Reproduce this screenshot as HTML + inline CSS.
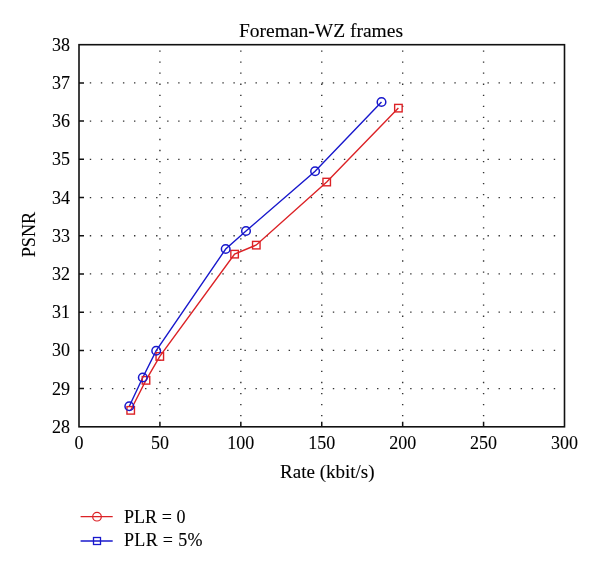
<!DOCTYPE html>
<html><head><meta charset="utf-8"><style>
html,body{margin:0;padding:0;background:#fff;}
body{width:600px;height:568px;overflow:hidden;font-family:"Liberation Serif",serif;}
svg{display:block;will-change:transform;}
</style></head><body>
<svg width="600" height="568" viewBox="0 0 600 568">
<rect width="600" height="568" fill="#fff"/>
<path d="M89.80 387.94h1.4v1.3h-1.4zM100.84 387.94h1.4v1.3h-1.4zM111.89 387.94h1.4v1.3h-1.4zM122.94 387.94h1.4v1.3h-1.4zM133.99 387.94h1.4v1.3h-1.4zM145.03 387.94h1.4v1.3h-1.4zM156.08 387.94h1.4v1.3h-1.4zM167.13 387.94h1.4v1.3h-1.4zM178.17 387.94h1.4v1.3h-1.4zM189.22 387.94h1.4v1.3h-1.4zM200.27 387.94h1.4v1.3h-1.4zM211.31 387.94h1.4v1.3h-1.4zM222.36 387.94h1.4v1.3h-1.4zM233.41 387.94h1.4v1.3h-1.4zM244.45 387.94h1.4v1.3h-1.4zM255.50 387.94h1.4v1.3h-1.4zM266.55 387.94h1.4v1.3h-1.4zM277.60 387.94h1.4v1.3h-1.4zM288.64 387.94h1.4v1.3h-1.4zM299.69 387.94h1.4v1.3h-1.4zM310.74 387.94h1.4v1.3h-1.4zM321.78 387.94h1.4v1.3h-1.4zM332.83 387.94h1.4v1.3h-1.4zM343.88 387.94h1.4v1.3h-1.4zM354.93 387.94h1.4v1.3h-1.4zM365.97 387.94h1.4v1.3h-1.4zM377.02 387.94h1.4v1.3h-1.4zM388.07 387.94h1.4v1.3h-1.4zM399.11 387.94h1.4v1.3h-1.4zM410.16 387.94h1.4v1.3h-1.4zM421.21 387.94h1.4v1.3h-1.4zM432.25 387.94h1.4v1.3h-1.4zM443.30 387.94h1.4v1.3h-1.4zM454.35 387.94h1.4v1.3h-1.4zM465.40 387.94h1.4v1.3h-1.4zM476.44 387.94h1.4v1.3h-1.4zM487.49 387.94h1.4v1.3h-1.4zM498.54 387.94h1.4v1.3h-1.4zM509.58 387.94h1.4v1.3h-1.4zM520.63 387.94h1.4v1.3h-1.4zM531.68 387.94h1.4v1.3h-1.4zM542.72 387.94h1.4v1.3h-1.4zM553.77 387.94h1.4v1.3h-1.4zM89.80 349.73h1.4v1.3h-1.4zM100.84 349.73h1.4v1.3h-1.4zM111.89 349.73h1.4v1.3h-1.4zM122.94 349.73h1.4v1.3h-1.4zM133.99 349.73h1.4v1.3h-1.4zM145.03 349.73h1.4v1.3h-1.4zM156.08 349.73h1.4v1.3h-1.4zM167.13 349.73h1.4v1.3h-1.4zM178.17 349.73h1.4v1.3h-1.4zM189.22 349.73h1.4v1.3h-1.4zM200.27 349.73h1.4v1.3h-1.4zM211.31 349.73h1.4v1.3h-1.4zM222.36 349.73h1.4v1.3h-1.4zM233.41 349.73h1.4v1.3h-1.4zM244.45 349.73h1.4v1.3h-1.4zM255.50 349.73h1.4v1.3h-1.4zM266.55 349.73h1.4v1.3h-1.4zM277.60 349.73h1.4v1.3h-1.4zM288.64 349.73h1.4v1.3h-1.4zM299.69 349.73h1.4v1.3h-1.4zM310.74 349.73h1.4v1.3h-1.4zM321.78 349.73h1.4v1.3h-1.4zM332.83 349.73h1.4v1.3h-1.4zM343.88 349.73h1.4v1.3h-1.4zM354.93 349.73h1.4v1.3h-1.4zM365.97 349.73h1.4v1.3h-1.4zM377.02 349.73h1.4v1.3h-1.4zM388.07 349.73h1.4v1.3h-1.4zM399.11 349.73h1.4v1.3h-1.4zM410.16 349.73h1.4v1.3h-1.4zM421.21 349.73h1.4v1.3h-1.4zM432.25 349.73h1.4v1.3h-1.4zM443.30 349.73h1.4v1.3h-1.4zM454.35 349.73h1.4v1.3h-1.4zM465.40 349.73h1.4v1.3h-1.4zM476.44 349.73h1.4v1.3h-1.4zM487.49 349.73h1.4v1.3h-1.4zM498.54 349.73h1.4v1.3h-1.4zM509.58 349.73h1.4v1.3h-1.4zM520.63 349.73h1.4v1.3h-1.4zM531.68 349.73h1.4v1.3h-1.4zM542.72 349.73h1.4v1.3h-1.4zM553.77 349.73h1.4v1.3h-1.4zM89.80 311.52h1.4v1.3h-1.4zM100.84 311.52h1.4v1.3h-1.4zM111.89 311.52h1.4v1.3h-1.4zM122.94 311.52h1.4v1.3h-1.4zM133.99 311.52h1.4v1.3h-1.4zM145.03 311.52h1.4v1.3h-1.4zM156.08 311.52h1.4v1.3h-1.4zM167.13 311.52h1.4v1.3h-1.4zM178.17 311.52h1.4v1.3h-1.4zM189.22 311.52h1.4v1.3h-1.4zM200.27 311.52h1.4v1.3h-1.4zM211.31 311.52h1.4v1.3h-1.4zM222.36 311.52h1.4v1.3h-1.4zM233.41 311.52h1.4v1.3h-1.4zM244.45 311.52h1.4v1.3h-1.4zM255.50 311.52h1.4v1.3h-1.4zM266.55 311.52h1.4v1.3h-1.4zM277.60 311.52h1.4v1.3h-1.4zM288.64 311.52h1.4v1.3h-1.4zM299.69 311.52h1.4v1.3h-1.4zM310.74 311.52h1.4v1.3h-1.4zM321.78 311.52h1.4v1.3h-1.4zM332.83 311.52h1.4v1.3h-1.4zM343.88 311.52h1.4v1.3h-1.4zM354.93 311.52h1.4v1.3h-1.4zM365.97 311.52h1.4v1.3h-1.4zM377.02 311.52h1.4v1.3h-1.4zM388.07 311.52h1.4v1.3h-1.4zM399.11 311.52h1.4v1.3h-1.4zM410.16 311.52h1.4v1.3h-1.4zM421.21 311.52h1.4v1.3h-1.4zM432.25 311.52h1.4v1.3h-1.4zM443.30 311.52h1.4v1.3h-1.4zM454.35 311.52h1.4v1.3h-1.4zM465.40 311.52h1.4v1.3h-1.4zM476.44 311.52h1.4v1.3h-1.4zM487.49 311.52h1.4v1.3h-1.4zM498.54 311.52h1.4v1.3h-1.4zM509.58 311.52h1.4v1.3h-1.4zM520.63 311.52h1.4v1.3h-1.4zM531.68 311.52h1.4v1.3h-1.4zM542.72 311.52h1.4v1.3h-1.4zM553.77 311.52h1.4v1.3h-1.4zM89.80 273.31h1.4v1.3h-1.4zM100.84 273.31h1.4v1.3h-1.4zM111.89 273.31h1.4v1.3h-1.4zM122.94 273.31h1.4v1.3h-1.4zM133.99 273.31h1.4v1.3h-1.4zM145.03 273.31h1.4v1.3h-1.4zM156.08 273.31h1.4v1.3h-1.4zM167.13 273.31h1.4v1.3h-1.4zM178.17 273.31h1.4v1.3h-1.4zM189.22 273.31h1.4v1.3h-1.4zM200.27 273.31h1.4v1.3h-1.4zM211.31 273.31h1.4v1.3h-1.4zM222.36 273.31h1.4v1.3h-1.4zM233.41 273.31h1.4v1.3h-1.4zM244.45 273.31h1.4v1.3h-1.4zM255.50 273.31h1.4v1.3h-1.4zM266.55 273.31h1.4v1.3h-1.4zM277.60 273.31h1.4v1.3h-1.4zM288.64 273.31h1.4v1.3h-1.4zM299.69 273.31h1.4v1.3h-1.4zM310.74 273.31h1.4v1.3h-1.4zM321.78 273.31h1.4v1.3h-1.4zM332.83 273.31h1.4v1.3h-1.4zM343.88 273.31h1.4v1.3h-1.4zM354.93 273.31h1.4v1.3h-1.4zM365.97 273.31h1.4v1.3h-1.4zM377.02 273.31h1.4v1.3h-1.4zM388.07 273.31h1.4v1.3h-1.4zM399.11 273.31h1.4v1.3h-1.4zM410.16 273.31h1.4v1.3h-1.4zM421.21 273.31h1.4v1.3h-1.4zM432.25 273.31h1.4v1.3h-1.4zM443.30 273.31h1.4v1.3h-1.4zM454.35 273.31h1.4v1.3h-1.4zM465.40 273.31h1.4v1.3h-1.4zM476.44 273.31h1.4v1.3h-1.4zM487.49 273.31h1.4v1.3h-1.4zM498.54 273.31h1.4v1.3h-1.4zM509.58 273.31h1.4v1.3h-1.4zM520.63 273.31h1.4v1.3h-1.4zM531.68 273.31h1.4v1.3h-1.4zM542.72 273.31h1.4v1.3h-1.4zM553.77 273.31h1.4v1.3h-1.4zM89.80 235.10h1.4v1.3h-1.4zM100.84 235.10h1.4v1.3h-1.4zM111.89 235.10h1.4v1.3h-1.4zM122.94 235.10h1.4v1.3h-1.4zM133.99 235.10h1.4v1.3h-1.4zM145.03 235.10h1.4v1.3h-1.4zM156.08 235.10h1.4v1.3h-1.4zM167.13 235.10h1.4v1.3h-1.4zM178.17 235.10h1.4v1.3h-1.4zM189.22 235.10h1.4v1.3h-1.4zM200.27 235.10h1.4v1.3h-1.4zM211.31 235.10h1.4v1.3h-1.4zM222.36 235.10h1.4v1.3h-1.4zM233.41 235.10h1.4v1.3h-1.4zM244.45 235.10h1.4v1.3h-1.4zM255.50 235.10h1.4v1.3h-1.4zM266.55 235.10h1.4v1.3h-1.4zM277.60 235.10h1.4v1.3h-1.4zM288.64 235.10h1.4v1.3h-1.4zM299.69 235.10h1.4v1.3h-1.4zM310.74 235.10h1.4v1.3h-1.4zM321.78 235.10h1.4v1.3h-1.4zM332.83 235.10h1.4v1.3h-1.4zM343.88 235.10h1.4v1.3h-1.4zM354.93 235.10h1.4v1.3h-1.4zM365.97 235.10h1.4v1.3h-1.4zM377.02 235.10h1.4v1.3h-1.4zM388.07 235.10h1.4v1.3h-1.4zM399.11 235.10h1.4v1.3h-1.4zM410.16 235.10h1.4v1.3h-1.4zM421.21 235.10h1.4v1.3h-1.4zM432.25 235.10h1.4v1.3h-1.4zM443.30 235.10h1.4v1.3h-1.4zM454.35 235.10h1.4v1.3h-1.4zM465.40 235.10h1.4v1.3h-1.4zM476.44 235.10h1.4v1.3h-1.4zM487.49 235.10h1.4v1.3h-1.4zM498.54 235.10h1.4v1.3h-1.4zM509.58 235.10h1.4v1.3h-1.4zM520.63 235.10h1.4v1.3h-1.4zM531.68 235.10h1.4v1.3h-1.4zM542.72 235.10h1.4v1.3h-1.4zM553.77 235.10h1.4v1.3h-1.4zM89.80 196.89h1.4v1.3h-1.4zM100.84 196.89h1.4v1.3h-1.4zM111.89 196.89h1.4v1.3h-1.4zM122.94 196.89h1.4v1.3h-1.4zM133.99 196.89h1.4v1.3h-1.4zM145.03 196.89h1.4v1.3h-1.4zM156.08 196.89h1.4v1.3h-1.4zM167.13 196.89h1.4v1.3h-1.4zM178.17 196.89h1.4v1.3h-1.4zM189.22 196.89h1.4v1.3h-1.4zM200.27 196.89h1.4v1.3h-1.4zM211.31 196.89h1.4v1.3h-1.4zM222.36 196.89h1.4v1.3h-1.4zM233.41 196.89h1.4v1.3h-1.4zM244.45 196.89h1.4v1.3h-1.4zM255.50 196.89h1.4v1.3h-1.4zM266.55 196.89h1.4v1.3h-1.4zM277.60 196.89h1.4v1.3h-1.4zM288.64 196.89h1.4v1.3h-1.4zM299.69 196.89h1.4v1.3h-1.4zM310.74 196.89h1.4v1.3h-1.4zM321.78 196.89h1.4v1.3h-1.4zM332.83 196.89h1.4v1.3h-1.4zM343.88 196.89h1.4v1.3h-1.4zM354.93 196.89h1.4v1.3h-1.4zM365.97 196.89h1.4v1.3h-1.4zM377.02 196.89h1.4v1.3h-1.4zM388.07 196.89h1.4v1.3h-1.4zM399.11 196.89h1.4v1.3h-1.4zM410.16 196.89h1.4v1.3h-1.4zM421.21 196.89h1.4v1.3h-1.4zM432.25 196.89h1.4v1.3h-1.4zM443.30 196.89h1.4v1.3h-1.4zM454.35 196.89h1.4v1.3h-1.4zM465.40 196.89h1.4v1.3h-1.4zM476.44 196.89h1.4v1.3h-1.4zM487.49 196.89h1.4v1.3h-1.4zM498.54 196.89h1.4v1.3h-1.4zM509.58 196.89h1.4v1.3h-1.4zM520.63 196.89h1.4v1.3h-1.4zM531.68 196.89h1.4v1.3h-1.4zM542.72 196.89h1.4v1.3h-1.4zM553.77 196.89h1.4v1.3h-1.4zM89.80 158.68h1.4v1.3h-1.4zM100.84 158.68h1.4v1.3h-1.4zM111.89 158.68h1.4v1.3h-1.4zM122.94 158.68h1.4v1.3h-1.4zM133.99 158.68h1.4v1.3h-1.4zM145.03 158.68h1.4v1.3h-1.4zM156.08 158.68h1.4v1.3h-1.4zM167.13 158.68h1.4v1.3h-1.4zM178.17 158.68h1.4v1.3h-1.4zM189.22 158.68h1.4v1.3h-1.4zM200.27 158.68h1.4v1.3h-1.4zM211.31 158.68h1.4v1.3h-1.4zM222.36 158.68h1.4v1.3h-1.4zM233.41 158.68h1.4v1.3h-1.4zM244.45 158.68h1.4v1.3h-1.4zM255.50 158.68h1.4v1.3h-1.4zM266.55 158.68h1.4v1.3h-1.4zM277.60 158.68h1.4v1.3h-1.4zM288.64 158.68h1.4v1.3h-1.4zM299.69 158.68h1.4v1.3h-1.4zM310.74 158.68h1.4v1.3h-1.4zM321.78 158.68h1.4v1.3h-1.4zM332.83 158.68h1.4v1.3h-1.4zM343.88 158.68h1.4v1.3h-1.4zM354.93 158.68h1.4v1.3h-1.4zM365.97 158.68h1.4v1.3h-1.4zM377.02 158.68h1.4v1.3h-1.4zM388.07 158.68h1.4v1.3h-1.4zM399.11 158.68h1.4v1.3h-1.4zM410.16 158.68h1.4v1.3h-1.4zM421.21 158.68h1.4v1.3h-1.4zM432.25 158.68h1.4v1.3h-1.4zM443.30 158.68h1.4v1.3h-1.4zM454.35 158.68h1.4v1.3h-1.4zM465.40 158.68h1.4v1.3h-1.4zM476.44 158.68h1.4v1.3h-1.4zM487.49 158.68h1.4v1.3h-1.4zM498.54 158.68h1.4v1.3h-1.4zM509.58 158.68h1.4v1.3h-1.4zM520.63 158.68h1.4v1.3h-1.4zM531.68 158.68h1.4v1.3h-1.4zM542.72 158.68h1.4v1.3h-1.4zM553.77 158.68h1.4v1.3h-1.4zM89.80 120.47h1.4v1.3h-1.4zM100.84 120.47h1.4v1.3h-1.4zM111.89 120.47h1.4v1.3h-1.4zM122.94 120.47h1.4v1.3h-1.4zM133.99 120.47h1.4v1.3h-1.4zM145.03 120.47h1.4v1.3h-1.4zM156.08 120.47h1.4v1.3h-1.4zM167.13 120.47h1.4v1.3h-1.4zM178.17 120.47h1.4v1.3h-1.4zM189.22 120.47h1.4v1.3h-1.4zM200.27 120.47h1.4v1.3h-1.4zM211.31 120.47h1.4v1.3h-1.4zM222.36 120.47h1.4v1.3h-1.4zM233.41 120.47h1.4v1.3h-1.4zM244.45 120.47h1.4v1.3h-1.4zM255.50 120.47h1.4v1.3h-1.4zM266.55 120.47h1.4v1.3h-1.4zM277.60 120.47h1.4v1.3h-1.4zM288.64 120.47h1.4v1.3h-1.4zM299.69 120.47h1.4v1.3h-1.4zM310.74 120.47h1.4v1.3h-1.4zM321.78 120.47h1.4v1.3h-1.4zM332.83 120.47h1.4v1.3h-1.4zM343.88 120.47h1.4v1.3h-1.4zM354.93 120.47h1.4v1.3h-1.4zM365.97 120.47h1.4v1.3h-1.4zM377.02 120.47h1.4v1.3h-1.4zM388.07 120.47h1.4v1.3h-1.4zM399.11 120.47h1.4v1.3h-1.4zM410.16 120.47h1.4v1.3h-1.4zM421.21 120.47h1.4v1.3h-1.4zM432.25 120.47h1.4v1.3h-1.4zM443.30 120.47h1.4v1.3h-1.4zM454.35 120.47h1.4v1.3h-1.4zM465.40 120.47h1.4v1.3h-1.4zM476.44 120.47h1.4v1.3h-1.4zM487.49 120.47h1.4v1.3h-1.4zM498.54 120.47h1.4v1.3h-1.4zM509.58 120.47h1.4v1.3h-1.4zM520.63 120.47h1.4v1.3h-1.4zM531.68 120.47h1.4v1.3h-1.4zM542.72 120.47h1.4v1.3h-1.4zM553.77 120.47h1.4v1.3h-1.4zM89.80 82.26h1.4v1.3h-1.4zM100.84 82.26h1.4v1.3h-1.4zM111.89 82.26h1.4v1.3h-1.4zM122.94 82.26h1.4v1.3h-1.4zM133.99 82.26h1.4v1.3h-1.4zM145.03 82.26h1.4v1.3h-1.4zM156.08 82.26h1.4v1.3h-1.4zM167.13 82.26h1.4v1.3h-1.4zM178.17 82.26h1.4v1.3h-1.4zM189.22 82.26h1.4v1.3h-1.4zM200.27 82.26h1.4v1.3h-1.4zM211.31 82.26h1.4v1.3h-1.4zM222.36 82.26h1.4v1.3h-1.4zM233.41 82.26h1.4v1.3h-1.4zM244.45 82.26h1.4v1.3h-1.4zM255.50 82.26h1.4v1.3h-1.4zM266.55 82.26h1.4v1.3h-1.4zM277.60 82.26h1.4v1.3h-1.4zM288.64 82.26h1.4v1.3h-1.4zM299.69 82.26h1.4v1.3h-1.4zM310.74 82.26h1.4v1.3h-1.4zM321.78 82.26h1.4v1.3h-1.4zM332.83 82.26h1.4v1.3h-1.4zM343.88 82.26h1.4v1.3h-1.4zM354.93 82.26h1.4v1.3h-1.4zM365.97 82.26h1.4v1.3h-1.4zM377.02 82.26h1.4v1.3h-1.4zM388.07 82.26h1.4v1.3h-1.4zM399.11 82.26h1.4v1.3h-1.4zM410.16 82.26h1.4v1.3h-1.4zM421.21 82.26h1.4v1.3h-1.4zM432.25 82.26h1.4v1.3h-1.4zM443.30 82.26h1.4v1.3h-1.4zM454.35 82.26h1.4v1.3h-1.4zM465.40 82.26h1.4v1.3h-1.4zM476.44 82.26h1.4v1.3h-1.4zM487.49 82.26h1.4v1.3h-1.4zM498.54 82.26h1.4v1.3h-1.4zM509.58 82.26h1.4v1.3h-1.4zM520.63 82.26h1.4v1.3h-1.4zM531.68 82.26h1.4v1.3h-1.4zM542.72 82.26h1.4v1.3h-1.4zM553.77 82.26h1.4v1.3h-1.4zM159.22 415.00h1.4v1.3h-1.4zM159.22 403.96h1.4v1.3h-1.4zM159.22 392.91h1.4v1.3h-1.4zM159.22 381.86h1.4v1.3h-1.4zM159.22 370.81h1.4v1.3h-1.4zM159.22 359.77h1.4v1.3h-1.4zM159.22 348.72h1.4v1.3h-1.4zM159.22 337.67h1.4v1.3h-1.4zM159.22 326.63h1.4v1.3h-1.4zM159.22 315.58h1.4v1.3h-1.4zM159.22 304.53h1.4v1.3h-1.4zM159.22 293.49h1.4v1.3h-1.4zM159.22 282.44h1.4v1.3h-1.4zM159.22 271.39h1.4v1.3h-1.4zM159.22 260.34h1.4v1.3h-1.4zM159.22 249.30h1.4v1.3h-1.4zM159.22 238.25h1.4v1.3h-1.4zM159.22 227.20h1.4v1.3h-1.4zM159.22 216.16h1.4v1.3h-1.4zM159.22 205.11h1.4v1.3h-1.4zM159.22 194.06h1.4v1.3h-1.4zM159.22 183.02h1.4v1.3h-1.4zM159.22 171.97h1.4v1.3h-1.4zM159.22 160.92h1.4v1.3h-1.4zM159.22 149.87h1.4v1.3h-1.4zM159.22 138.83h1.4v1.3h-1.4zM159.22 127.78h1.4v1.3h-1.4zM159.22 116.73h1.4v1.3h-1.4zM159.22 105.69h1.4v1.3h-1.4zM159.22 94.64h1.4v1.3h-1.4zM159.22 83.59h1.4v1.3h-1.4zM159.22 72.55h1.4v1.3h-1.4zM159.22 61.50h1.4v1.3h-1.4zM159.22 50.45h1.4v1.3h-1.4zM240.13 415.00h1.4v1.3h-1.4zM240.13 403.96h1.4v1.3h-1.4zM240.13 392.91h1.4v1.3h-1.4zM240.13 381.86h1.4v1.3h-1.4zM240.13 370.81h1.4v1.3h-1.4zM240.13 359.77h1.4v1.3h-1.4zM240.13 348.72h1.4v1.3h-1.4zM240.13 337.67h1.4v1.3h-1.4zM240.13 326.63h1.4v1.3h-1.4zM240.13 315.58h1.4v1.3h-1.4zM240.13 304.53h1.4v1.3h-1.4zM240.13 293.49h1.4v1.3h-1.4zM240.13 282.44h1.4v1.3h-1.4zM240.13 271.39h1.4v1.3h-1.4zM240.13 260.34h1.4v1.3h-1.4zM240.13 249.30h1.4v1.3h-1.4zM240.13 238.25h1.4v1.3h-1.4zM240.13 227.20h1.4v1.3h-1.4zM240.13 216.16h1.4v1.3h-1.4zM240.13 205.11h1.4v1.3h-1.4zM240.13 194.06h1.4v1.3h-1.4zM240.13 183.02h1.4v1.3h-1.4zM240.13 171.97h1.4v1.3h-1.4zM240.13 160.92h1.4v1.3h-1.4zM240.13 149.87h1.4v1.3h-1.4zM240.13 138.83h1.4v1.3h-1.4zM240.13 127.78h1.4v1.3h-1.4zM240.13 116.73h1.4v1.3h-1.4zM240.13 105.69h1.4v1.3h-1.4zM240.13 94.64h1.4v1.3h-1.4zM240.13 83.59h1.4v1.3h-1.4zM240.13 72.55h1.4v1.3h-1.4zM240.13 61.50h1.4v1.3h-1.4zM240.13 50.45h1.4v1.3h-1.4zM321.05 415.00h1.4v1.3h-1.4zM321.05 403.96h1.4v1.3h-1.4zM321.05 392.91h1.4v1.3h-1.4zM321.05 381.86h1.4v1.3h-1.4zM321.05 370.81h1.4v1.3h-1.4zM321.05 359.77h1.4v1.3h-1.4zM321.05 348.72h1.4v1.3h-1.4zM321.05 337.67h1.4v1.3h-1.4zM321.05 326.63h1.4v1.3h-1.4zM321.05 315.58h1.4v1.3h-1.4zM321.05 304.53h1.4v1.3h-1.4zM321.05 293.49h1.4v1.3h-1.4zM321.05 282.44h1.4v1.3h-1.4zM321.05 271.39h1.4v1.3h-1.4zM321.05 260.34h1.4v1.3h-1.4zM321.05 249.30h1.4v1.3h-1.4zM321.05 238.25h1.4v1.3h-1.4zM321.05 227.20h1.4v1.3h-1.4zM321.05 216.16h1.4v1.3h-1.4zM321.05 205.11h1.4v1.3h-1.4zM321.05 194.06h1.4v1.3h-1.4zM321.05 183.02h1.4v1.3h-1.4zM321.05 171.97h1.4v1.3h-1.4zM321.05 160.92h1.4v1.3h-1.4zM321.05 149.87h1.4v1.3h-1.4zM321.05 138.83h1.4v1.3h-1.4zM321.05 127.78h1.4v1.3h-1.4zM321.05 116.73h1.4v1.3h-1.4zM321.05 105.69h1.4v1.3h-1.4zM321.05 94.64h1.4v1.3h-1.4zM321.05 83.59h1.4v1.3h-1.4zM321.05 72.55h1.4v1.3h-1.4zM321.05 61.50h1.4v1.3h-1.4zM321.05 50.45h1.4v1.3h-1.4zM401.97 415.00h1.4v1.3h-1.4zM401.97 403.96h1.4v1.3h-1.4zM401.97 392.91h1.4v1.3h-1.4zM401.97 381.86h1.4v1.3h-1.4zM401.97 370.81h1.4v1.3h-1.4zM401.97 359.77h1.4v1.3h-1.4zM401.97 348.72h1.4v1.3h-1.4zM401.97 337.67h1.4v1.3h-1.4zM401.97 326.63h1.4v1.3h-1.4zM401.97 315.58h1.4v1.3h-1.4zM401.97 304.53h1.4v1.3h-1.4zM401.97 293.49h1.4v1.3h-1.4zM401.97 282.44h1.4v1.3h-1.4zM401.97 271.39h1.4v1.3h-1.4zM401.97 260.34h1.4v1.3h-1.4zM401.97 249.30h1.4v1.3h-1.4zM401.97 238.25h1.4v1.3h-1.4zM401.97 227.20h1.4v1.3h-1.4zM401.97 216.16h1.4v1.3h-1.4zM401.97 205.11h1.4v1.3h-1.4zM401.97 194.06h1.4v1.3h-1.4zM401.97 183.02h1.4v1.3h-1.4zM401.97 171.97h1.4v1.3h-1.4zM401.97 160.92h1.4v1.3h-1.4zM401.97 149.87h1.4v1.3h-1.4zM401.97 138.83h1.4v1.3h-1.4zM401.97 127.78h1.4v1.3h-1.4zM401.97 116.73h1.4v1.3h-1.4zM401.97 105.69h1.4v1.3h-1.4zM401.97 94.64h1.4v1.3h-1.4zM401.97 83.59h1.4v1.3h-1.4zM401.97 72.55h1.4v1.3h-1.4zM401.97 61.50h1.4v1.3h-1.4zM401.97 50.45h1.4v1.3h-1.4zM482.88 415.00h1.4v1.3h-1.4zM482.88 403.96h1.4v1.3h-1.4zM482.88 392.91h1.4v1.3h-1.4zM482.88 381.86h1.4v1.3h-1.4zM482.88 370.81h1.4v1.3h-1.4zM482.88 359.77h1.4v1.3h-1.4zM482.88 348.72h1.4v1.3h-1.4zM482.88 337.67h1.4v1.3h-1.4zM482.88 326.63h1.4v1.3h-1.4zM482.88 315.58h1.4v1.3h-1.4zM482.88 304.53h1.4v1.3h-1.4zM482.88 293.49h1.4v1.3h-1.4zM482.88 282.44h1.4v1.3h-1.4zM482.88 271.39h1.4v1.3h-1.4zM482.88 260.34h1.4v1.3h-1.4zM482.88 249.30h1.4v1.3h-1.4zM482.88 238.25h1.4v1.3h-1.4zM482.88 227.20h1.4v1.3h-1.4zM482.88 216.16h1.4v1.3h-1.4zM482.88 205.11h1.4v1.3h-1.4zM482.88 194.06h1.4v1.3h-1.4zM482.88 183.02h1.4v1.3h-1.4zM482.88 171.97h1.4v1.3h-1.4zM482.88 160.92h1.4v1.3h-1.4zM482.88 149.87h1.4v1.3h-1.4zM482.88 138.83h1.4v1.3h-1.4zM482.88 127.78h1.4v1.3h-1.4zM482.88 116.73h1.4v1.3h-1.4zM482.88 105.69h1.4v1.3h-1.4zM482.88 94.64h1.4v1.3h-1.4zM482.88 83.59h1.4v1.3h-1.4zM482.88 72.55h1.4v1.3h-1.4zM482.88 61.50h1.4v1.3h-1.4zM482.88 50.45h1.4v1.3h-1.4z" fill="#333"/>
<path d="M79.00 388.59h5M79.00 350.38h5M79.00 312.17h5M79.00 273.96h5M79.00 235.75h5M79.00 197.54h5M79.00 159.33h5M79.00 121.12h5M79.00 82.91h5M159.92 426.80v-5M240.83 426.80v-5M321.75 426.80v-5M402.67 426.80v-5M483.58 426.80v-5" stroke="#111" stroke-width="1.5" fill="none"/>
<rect x="79.0" y="44.7" width="485.5" height="382.1" fill="none" stroke="#111" stroke-width="1.6"/>
<polyline points="130.7,410.2 146,380.2 159.8,356.3 234.6,254 256.3,245 326.7,181.9 398.4,108" fill="none" stroke="#dc2226" stroke-width="1.4"/>
<polyline points="129.3,406.2 142.8,377.5 156.2,350.7 225.7,249 246,231 315.1,171.2 381.5,102" fill="none" stroke="#1818cc" stroke-width="1.4"/>
<rect x="126.95" y="406.60" width="7.5" height="7.5" fill="none" stroke="#dc2226" stroke-width="1.4"/>
<rect x="142.25" y="376.60" width="7.5" height="7.5" fill="none" stroke="#dc2226" stroke-width="1.4"/>
<rect x="156.05" y="352.70" width="7.5" height="7.5" fill="none" stroke="#dc2226" stroke-width="1.4"/>
<rect x="230.85" y="250.40" width="7.5" height="7.5" fill="none" stroke="#dc2226" stroke-width="1.4"/>
<rect x="252.55" y="241.40" width="7.5" height="7.5" fill="none" stroke="#dc2226" stroke-width="1.4"/>
<rect x="322.95" y="178.30" width="7.5" height="7.5" fill="none" stroke="#dc2226" stroke-width="1.4"/>
<rect x="394.65" y="104.40" width="7.5" height="7.5" fill="none" stroke="#dc2226" stroke-width="1.4"/>
<circle cx="129.3" cy="406.2" r="4.3" fill="none" stroke="#1818cc" stroke-width="1.5"/>
<circle cx="142.8" cy="377.5" r="4.3" fill="none" stroke="#1818cc" stroke-width="1.5"/>
<circle cx="156.2" cy="350.7" r="4.3" fill="none" stroke="#1818cc" stroke-width="1.5"/>
<circle cx="225.7" cy="249" r="4.3" fill="none" stroke="#1818cc" stroke-width="1.5"/>
<circle cx="246" cy="231" r="4.3" fill="none" stroke="#1818cc" stroke-width="1.5"/>
<circle cx="315.1" cy="171.2" r="4.3" fill="none" stroke="#1818cc" stroke-width="1.5"/>
<circle cx="381.5" cy="102" r="4.3" fill="none" stroke="#1818cc" stroke-width="1.5"/>
<text x="70" y="432.80" text-anchor="end" font-size="18" font-family="&quot;Liberation Serif&quot;, serif" stroke="#000" stroke-width="0.1">28</text>
<text x="70" y="394.59" text-anchor="end" font-size="18" font-family="&quot;Liberation Serif&quot;, serif" stroke="#000" stroke-width="0.1">29</text>
<text x="70" y="356.38" text-anchor="end" font-size="18" font-family="&quot;Liberation Serif&quot;, serif" stroke="#000" stroke-width="0.1">30</text>
<text x="70" y="318.17" text-anchor="end" font-size="18" font-family="&quot;Liberation Serif&quot;, serif" stroke="#000" stroke-width="0.1">31</text>
<text x="70" y="279.96" text-anchor="end" font-size="18" font-family="&quot;Liberation Serif&quot;, serif" stroke="#000" stroke-width="0.1">32</text>
<text x="70" y="241.75" text-anchor="end" font-size="18" font-family="&quot;Liberation Serif&quot;, serif" stroke="#000" stroke-width="0.1">33</text>
<text x="70" y="203.54" text-anchor="end" font-size="18" font-family="&quot;Liberation Serif&quot;, serif" stroke="#000" stroke-width="0.1">34</text>
<text x="70" y="165.33" text-anchor="end" font-size="18" font-family="&quot;Liberation Serif&quot;, serif" stroke="#000" stroke-width="0.1">35</text>
<text x="70" y="127.12" text-anchor="end" font-size="18" font-family="&quot;Liberation Serif&quot;, serif" stroke="#000" stroke-width="0.1">36</text>
<text x="70" y="88.91" text-anchor="end" font-size="18" font-family="&quot;Liberation Serif&quot;, serif" stroke="#000" stroke-width="0.1">37</text>
<text x="70" y="50.70" text-anchor="end" font-size="18" font-family="&quot;Liberation Serif&quot;, serif" stroke="#000" stroke-width="0.1">38</text>
<text x="79.00" y="449" text-anchor="middle" font-size="18" font-family="&quot;Liberation Serif&quot;, serif" stroke="#000" stroke-width="0.1">0</text>
<text x="159.92" y="449" text-anchor="middle" font-size="18" font-family="&quot;Liberation Serif&quot;, serif" stroke="#000" stroke-width="0.1">50</text>
<text x="240.83" y="449" text-anchor="middle" font-size="18" font-family="&quot;Liberation Serif&quot;, serif" stroke="#000" stroke-width="0.1">100</text>
<text x="321.75" y="449" text-anchor="middle" font-size="18" font-family="&quot;Liberation Serif&quot;, serif" stroke="#000" stroke-width="0.1">150</text>
<text x="402.67" y="449" text-anchor="middle" font-size="18" font-family="&quot;Liberation Serif&quot;, serif" stroke="#000" stroke-width="0.1">200</text>
<text x="483.58" y="449" text-anchor="middle" font-size="18" font-family="&quot;Liberation Serif&quot;, serif" stroke="#000" stroke-width="0.1">250</text>
<text x="564.50" y="449" text-anchor="middle" font-size="18" font-family="&quot;Liberation Serif&quot;, serif" stroke="#000" stroke-width="0.1">300</text>
<text x="321" y="37.3" text-anchor="middle" font-size="19.5" font-family="&quot;Liberation Serif&quot;, serif" stroke="#000" stroke-width="0.1">Foreman-WZ frames</text>
<text x="327.3" y="478" text-anchor="middle" font-size="19" font-family="&quot;Liberation Serif&quot;, serif" stroke="#000" stroke-width="0.1">Rate (kbit/s)</text>
<text transform="translate(34.7 234.5) rotate(-90)" text-anchor="middle" font-size="18.2" font-family="&quot;Liberation Serif&quot;, serif" stroke="#000" stroke-width="0.1">PSNR</text>
<path d="M80.6 516.6H112.7" stroke="#dc2226" stroke-width="1.3"/>
<circle cx="97" cy="516.7" r="4.3" fill="none" stroke="#dc2226" stroke-width="1.2"/>
<path d="M80.6 541H112.7" stroke="#1818cc" stroke-width="1.3"/>
<rect x="93.5" y="537.5" width="7" height="7" fill="none" stroke="#1818cc" stroke-width="1.3"/>
<text x="124" y="522.9" font-size="18" textLength="61.5" font-family="&quot;Liberation Serif&quot;, serif" stroke="#000" stroke-width="0.1">PLR = 0</text>
<text x="124" y="546.2" font-size="18" textLength="78.5" font-family="&quot;Liberation Serif&quot;, serif" stroke="#000" stroke-width="0.1">PLR = 5%</text>
</svg>
</body></html>
